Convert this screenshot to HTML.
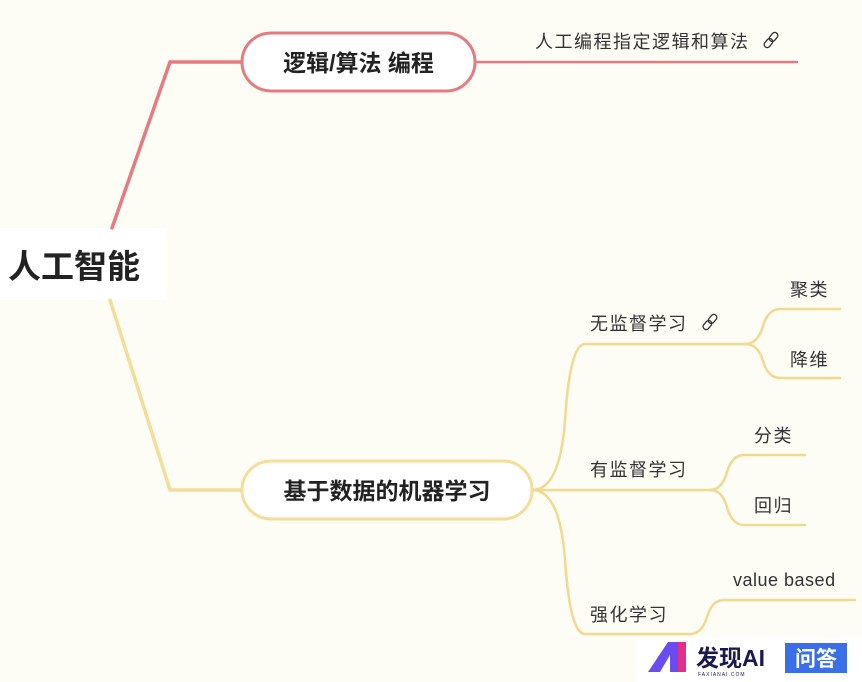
<!DOCTYPE html>
<html><head><meta charset="utf-8"><style>
body{margin:0;width:862px;height:682px;overflow:hidden;background:#fdfdf5;font-family:"Liberation Sans","Noto Sans CJK SC",sans-serif;}
</style></head><body>
<svg width="862" height="682" xmlns="http://www.w3.org/2000/svg" style="position:absolute;left:0;top:0">
<rect x="0" y="0" width="862" height="682" fill="#fdfdf5"/>
<rect x="0" y="228" width="166" height="72" fill="#ffffff"/>
<g fill="none" stroke-linecap="round">
<path d="M112 228 L170 62 L242 62" stroke="#e57a80" stroke-width="3.5"/>
<path d="M475 62 L797 62" stroke="#e57a80" stroke-width="2.5"/>
<path d="M110 300 L170 490 L242 490" stroke="#f5dc98" stroke-width="3.5"/>
<g stroke="#f3d98f" stroke-width="2.5">
<path d="M532 490 Q560 490 565 420 Q570 344 585 344 L745 344"/>
<path d="M532 490 L710 490"/>
<path d="M532 490 Q560 490 565 560 Q570 634 585 634 L690 634"/>
<path d="M745 344 Q758 344 763 326 Q768 309 780 309 L840 309"/>
<path d="M745 344 Q758 344 763 361 Q768 378 780 378 L840 378"/>
<path d="M710 490 Q722 490 727 472 Q732 455 744 455 L805 455"/>
<path d="M710 490 Q722 490 727 507 Q732 525 744 525 L805 525"/>
<path d="M690 634 Q702 634 707 617 Q712 600 724 600 L855 600"/>
</g>
<rect x="242" y="33" width="233" height="58" rx="29" fill="#fff" stroke="#e57a80" stroke-width="3"/>
<rect x="242" y="461" width="290" height="58" rx="29" fill="#fff" stroke="#f5dc98" stroke-width="3"/>
<g stroke="#333" stroke-width="1.3">
<g transform="translate(771 40) rotate(-50)">
<rect x="-9" y="-3" width="10" height="6" rx="3"/><rect x="-1" y="-3" width="10" height="6" rx="3"/>
</g>
<g transform="translate(710 322) rotate(-50)">
<rect x="-9" y="-3" width="10" height="6" rx="3"/><rect x="-1" y="-3" width="10" height="6" rx="3"/>
</g>
</g>
</g>
<g font-family="Liberation Sans, Noto Sans CJK SC, sans-serif" fill="#222">
<text x="8" y="278" font-size="33" font-weight="bold">人工智能</text>
<text x="358.5" y="71" font-size="23" font-weight="bold" text-anchor="middle">逻辑/算法 编程</text>
<text x="387" y="499" font-size="23" font-weight="bold" text-anchor="middle">基于数据的机器学习</text>
<g font-size="18" fill="#333" letter-spacing="1.5">
<text x="535" y="48">人工编程指定逻辑和算法</text>
<text x="590" y="330">无监督学习</text>
<text x="590" y="476">有监督学习</text>
<text x="590" y="621">强化学习</text>
<text x="790" y="296">聚类</text>
<text x="790" y="366">降维</text>
<text x="754" y="442">分类</text>
<text x="754" y="512">回归</text>
<text x="733" y="586" letter-spacing="0.5">value based</text>
</g>
</g>
<rect x="636" y="638" width="226" height="44" fill="#ffffff"/>
<polygon points="648,672 668,642 680,642 680,672 670,672 670,655 660,672" fill="#6a4cf0"/>
<rect x="678" y="642" width="8" height="30" fill="#e0308a"/>
<text x="696" y="666" font-size="23" font-weight="bold" fill="#1a1a50" font-family="Liberation Sans, Noto Sans CJK SC, sans-serif">发现AI</text>
<text x="698" y="676" font-size="5" fill="#1a1a50" font-family="Liberation Sans, sans-serif" letter-spacing="1">FAXIANAI.COM</text>
<rect x="785" y="643" width="62" height="30" fill="#3a6fe8"/>
<text x="816" y="666" font-size="21" font-weight="bold" fill="#fff" text-anchor="middle" font-family="Liberation Sans, Noto Sans CJK SC, sans-serif">问答</text>
</svg>
</body></html>
